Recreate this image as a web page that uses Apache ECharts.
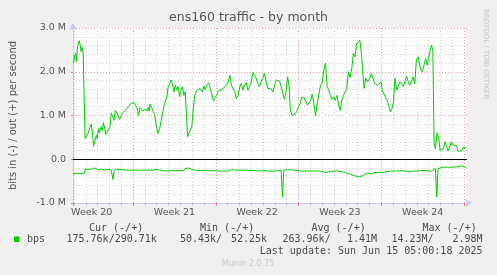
<!DOCTYPE html>
<html>
<head>
<meta charset="utf-8">
<script src="https://cdn.jsdelivr.net/npm/echarts@6/dist/echarts.min.js"></script>
<style>
html,body{margin:0;padding:0;background:#f0f0f0;}
#chart{width:497px;height:275px;}
</style>
</head>
<body>
<div id="chart"></div>
<script>
// Time in days since Sunday 11 May 2025 00:00; values in Mbit/s
const xMin = 1.92, xMax = 35.25;
const weekCenters = [3.5, 10.5, 17.5, 24.5, 31.5];
const weekLabels = ['Week 20', 'Week 21', 'Week 22', 'Week 23', 'Week 24'];
const yTickValues = [-1, 0, 1, 2, 3];
const yTickLabels = ['-1.0 M', '0.0', '1.0 M', '2.0 M', '3.0 M'];

const outDays = [1.97,2.05,2.14,2.22,2.30,2.44,2.53,2.61,2.69,2.78,2.86,2.94,3.08,3.19,3.36,3.47,3.58,3.66,3.78,3.89,3.97,4.08,4.16,4.28,4.39,4.50,4.61,4.69,4.80,4.94,5.05,5.16,5.28,5.39,5.50,5.64,5.75,5.86,6.00,6.11,6.22,6.36,6.50,6.64,6.78,6.91,7.05,7.19,7.33,7.47,7.58,7.72,7.86,8.00,8.14,8.28,8.36,8.44,8.58,8.69,8.83,8.97,9.11,9.25,9.39,9.53,9.66,9.75,9.86,9.97,10.11,10.22,
10.33,10.47,10.58,10.69,10.80,10.94,11.05,11.19,11.30,11.41,11.50,11.61,11.72,11.86,11.97,12.08,12.22,12.36,12.50,12.64,12.75,12.86,13.00,13.11,13.25,13.41,13.53,13.66,13.80,13.94,14.08,14.22,14.36,14.50,14.64,14.78,14.92,15.05,15.19,15.33,15.47,15.61,15.75,15.89,16.03,16.16,16.30,16.44,16.58,16.72,16.86,17.00,17.14,17.28,17.42,17.55,17.69,17.83,17.97,18.11,18.25,18.39,18.53,18.66,
18.83,18.97,19.11,19.25,19.39,19.53,19.66,19.80,19.94,20.08,20.19,20.30,20.44,20.58,20.72,20.86,21.00,21.14,21.25,21.36,21.47,21.61,21.75,21.89,22.03,22.16,22.30,22.44,22.58,22.72,22.86,23.00,23.14,23.28,23.42,23.55,23.69,23.83,23.97,24.11,24.25,24.39,24.53,24.66,24.80,24.94,25.08,25.22,25.36,25.50,25.64,25.78,25.92,26.05,26.19,26.33,26.47,26.55,26.69,26.83,26.97,
27.03,27.16,27.30,27.44,27.58,27.72,27.86,27.97,28.08,28.22,28.36,28.50,28.64,28.78,28.91,29.03,29.16,29.30,29.44,29.58,29.72,29.86,30.00,30.14,30.28,30.41,30.55,30.69,30.83,30.97,31.11,31.25,31.33,31.47,31.61,31.75,31.89,32.03,32.11,32.25,32.36,32.47,32.58,32.72,32.86,32.97,33.11,33.25,33.39,33.53,33.66,33.80,33.94,34.08,34.22,34.36,34.50,34.64,34.78,34.91,35.05,35.14,35.20];
const outValues = [2.20,2.36,2.42,2.23,2.57,2.71,2.61,2.46,2.56,2.43,2.46,0.47,0.47,0.59,0.74,0.80,0.55,0.30,0.32,0.55,0.47,0.70,0.60,0.74,0.66,0.84,0.85,0.57,0.62,0.59,0.74,1.06,0.97,0.89,1.12,1.14,1.00,0.91,0.89,1.06,1.04,1.12,1.14,1.21,1.27,1.26,1.30,1.24,1.18,1.00,1.18,1.14,1.10,1.15,1.10,1.18,1.10,1.26,1.18,1.10,1.03,0.76,0.59,0.70,0.89,1.10,1.27,1.24,1.43,1.66,1.73,1.81,
1.73,1.54,1.69,1.58,1.66,1.43,1.58,1.66,1.46,1.54,1.12,0.51,0.59,0.55,0.74,1.12,1.46,1.56,1.54,1.62,1.66,1.54,1.67,1.59,1.69,1.75,1.62,1.50,1.33,1.41,1.46,1.56,1.54,1.59,1.58,1.66,1.69,1.75,1.92,1.69,1.69,1.54,1.39,1.46,1.66,1.73,1.58,1.69,1.75,1.58,1.66,1.77,1.98,1.92,1.85,1.73,1.66,1.77,1.85,1.96,1.98,1.62,1.58,1.62,
1.54,1.69,1.81,1.85,1.79,1.66,1.62,1.37,1.54,1.88,1.69,1.16,1.00,1.00,1.04,1.10,1.21,1.27,1.41,1.39,1.41,1.39,1.24,1.29,1.35,1.49,1.26,1.00,1.27,1.49,1.69,1.75,2.04,2.20,1.66,1.58,1.46,1.37,1.43,1.35,1.46,1.24,1.12,1.35,1.46,1.44,1.62,2.00,1.87,2.07,2.42,2.34,2.65,2.63,2.72,2.38,1.85,1.62,1.85,1.77,1.81,
1.85,1.96,1.92,1.73,1.75,1.69,1.66,1.77,1.58,1.59,1.41,1.35,1.37,1.08,1.16,1.31,1.85,1.58,1.62,1.77,1.73,1.66,1.77,1.90,1.77,1.69,1.73,1.88,1.73,2.27,2.34,2.38,2.05,2.00,2.04,2.30,2.15,2.11,2.46,2.61,2.49,0.36,0.24,0.60,0.51,0.21,0.22,0.24,0.40,0.28,0.19,0.21,0.40,0.32,0.30,0.32,0.18,0.17,0.19,0.27,0.24,0.27,0.29];

const inDays = [1.92,2.86,2.94,3.22,3.50,3.69,3.86,4.05,4.33,4.61,4.89,5.16,5.30,5.41,5.58,5.86,6.14,6.55,6.97,7.53,8.08,8.64,9.05,9.33,9.75,10.30,10.86,11.28,11.47,11.69,11.97,12.25,12.80,13.36,13.91,14.47,15.03,15.30,15.86,16.69,17.25,17.80,18.08,
18.53,18.94,19.36,19.53,19.64,19.75,20.05,20.47,20.89,21.30,21.72,22.14,22.55,22.97,23.25,23.53,23.94,24.36,24.91,25.33,25.75,26.16,26.44,26.72,27.14,27.55,27.97,28.39,28.80,29.22,29.64,30.05,30.33,30.61,31.03,31.44,31.86,32.28,32.41,32.58,32.69,32.80,32.97,33.25,33.66,34.08,34.50,34.78,35.05,35.14,35.20];
const inValues = [-0.33,-0.33,-0.23,-0.23,-0.23,-0.20,-0.21,-0.24,-0.23,-0.24,-0.23,-0.26,-0.46,-0.25,-0.23,-0.23,-0.24,-0.25,-0.25,-0.25,-0.25,-0.25,-0.23,-0.25,-0.27,-0.26,-0.26,-0.25,-0.21,-0.20,-0.23,-0.25,-0.26,-0.26,-0.26,-0.27,-0.27,-0.24,-0.25,-0.25,-0.26,-0.27,-0.26,
-0.27,-0.27,-0.26,-0.25,-0.86,-0.25,-0.24,-0.24,-0.26,-0.27,-0.27,-0.27,-0.27,-0.27,-0.30,-0.29,-0.27,-0.27,-0.30,-0.34,-0.38,-0.40,-0.37,-0.33,-0.33,-0.30,-0.30,-0.29,-0.27,-0.27,-0.26,-0.27,-0.29,-0.27,-0.27,-0.26,-0.26,-0.27,-0.23,-0.21,-0.86,-0.21,-0.20,-0.18,-0.18,-0.18,-0.17,-0.15,-0.18,-0.20,-0.18];

const legendHeader = ['Cur (-/+)', 'Min (-/+)', 'Avg (-/+)', 'Max (-/+)'];
const legendValues = ['175.76k/290.71k', '50.43k/', '52.25k', '263.96k/', '1.41M', '14.23M/', '2.98M'];
const seriesName = 'bps';
const lastUpdate = 'Last update: Sun Jun 15 05:00:18 2025';

const zip = (a, b) => a.map((v, i) => [v, b[i]]);

const FONT = 'DejaVu Sans';
const MONO = 'DejaVu Sans Mono';
const TXT = '#555555';
const GREEN = '#00cc00';
const AXIS = '#c4c8f4';
const MINOR = '#cfcfcf';
const MAJOR = '#e6a0a0';

const chart = echarts.init(document.getElementById('chart'), null, {renderer: 'canvas'});

const baseX = {type: 'value', min: xMin, max: xMax, gridIndex: 0, position: 'bottom'};

const monoText = (x, y, text, align) => ({
  type: 'text', x: x, y: y, silent: true,
  style: {text: text, fill: '#4a4a4a', font: '10px "' + MONO + '"', textAlign: align || 'left', textVerticalAlign: 'middle'}
});

chart.setOption({
  animation: false,
  backgroundColor: '#f0f0f0',
  grid: {left: 67, right: 30, top: 28, bottom: 72, show: true, backgroundColor: '#ffffff', borderWidth: 0},
  xAxis: [
    Object.assign({}, baseX, {
      minInterval: 1, maxInterval: 1,
      axisLine: {show: true, onZero: false, lineStyle: {color: AXIS, width: 1}, symbol: ['none', 'arrow'], symbolSize: [6, 7], symbolOffset: [0, 5]},
      axisTick: {show: true, inside: false, length: 2, lineStyle: {color: '#bbbbbb'}},
      axisLabel: {show: false},
      splitLine: {show: true, showMinLine: false, showMaxLine: false, lineStyle: {color: MINOR, type: [1, 2], width: 1}}
    }),
    Object.assign({}, baseX, {
      minInterval: 7, maxInterval: 7,
      axisLine: {show: false, onZero: false},
      axisTick: {show: true, inside: false, length: 3, lineStyle: {color: '#e08080'}},
      axisLabel: {show: false},
      splitLine: {show: true, showMinLine: false, showMaxLine: false, lineStyle: {color: MAJOR, type: [1, 2], width: 1}}
    }),
    Object.assign({}, baseX, {
      axisLine: {show: false, onZero: false},
      axisTick: {show: false},
      splitLine: {show: false},
      axisLabel: {
        show: true, customValues: weekCenters, margin: 5,
        color: TXT, fontFamily: FONT, fontSize: 9.5,
        formatter: v => { const i = weekCenters.indexOf(v); return i >= 0 ? weekLabels[i] : ''; }
      }
    })
  ],
  yAxis: [
    {
      type: 'value', min: -1, max: 3, interval: 0.2, position: 'left',
      axisLine: {show: false}, axisTick: {show: false}, axisLabel: {show: false},
      splitLine: {show: true, lineStyle: {color: MINOR, type: [1, 2], width: 1}}
    },
    {
      type: 'value', min: -1, max: 3, interval: 1, position: 'left',
      name: 'bits in (-) / out (+) per second', nameLocation: 'middle', nameGap: 55, nameRotate: 90,
      nameTextStyle: {color: TXT, fontFamily: FONT, fontSize: 10},
      axisLine: {show: true, onZero: false, lineStyle: {color: AXIS, width: 1}, symbol: ['none', 'arrow'], symbolSize: [6, 7], symbolOffset: [0, 5]},
      axisTick: {show: true, inside: false, length: 2, lineStyle: {color: '#e08080'}},
      axisLabel: {
        color: TXT, fontFamily: FONT, fontSize: 9.5, margin: 7,
        formatter: v => { const i = yTickValues.findIndex(t => Math.abs(t - v) < 1e-9); return i >= 0 ? yTickLabels[i] : ''; }
      },
      splitLine: {show: true, lineStyle: {color: MAJOR, type: [1, 2], width: 1}}
    }
  ],
  series: [
    {
      name: seriesName + ' in', type: 'line', xAxisIndex: 0, yAxisIndex: 1,
      data: zip(inDays, inValues), showSymbol: false, symbol: 'none',
      lineStyle: {color: GREEN, width: 1}, itemStyle: {color: GREEN}, z: 5
    },
    {
      name: seriesName, type: 'line', xAxisIndex: 0, yAxisIndex: 1,
      data: zip(outDays, outValues), showSymbol: false, symbol: 'none',
      lineStyle: {color: GREEN, width: 1}, itemStyle: {color: GREEN}, z: 5,
      markLine: {
        silent: true, symbol: ['none', 'none'], label: {show: false},
        lineStyle: {color: '#000000', width: 1.2, type: 'solid'},
        data: [{yAxis: 0}]
      }
    }
  ],
  graphic: [
    {type: 'text', x: 248.5, y: 18, silent: true,
     style: {text: 'ens160 traffic - by month', fill: TXT, font: '12.5px "' + FONT + '"', textAlign: 'center', textVerticalAlign: 'middle'}},
    {type: 'text', x: 486, y: 54, rotation: -Math.PI / 2, silent: true,
     style: {text: 'RRDTOOL / TOBI OETIKER', fill: '#c8c8c8', font: '7px "' + FONT + '"', textAlign: 'center', textVerticalAlign: 'middle'}},
    monoText(89, 228, legendHeader[0]),
    monoText(200, 228, legendHeader[1]),
    monoText(311.5, 228, legendHeader[2]),
    monoText(422.5, 228, legendHeader[3]),
    {type: 'rect', shape: {x: 14, y: 236.5, width: 5.5, height: 5.5}, style: {fill: GREEN}, silent: true},
    monoText(27, 239.5, seriesName),
    monoText(66.5, 239.5, legendValues[0]),
    monoText(180, 239.5, legendValues[1]),
    monoText(267, 239.5, legendValues[2], 'right'),
    monoText(282.5, 239.5, legendValues[3]),
    monoText(377, 239.5, legendValues[4], 'right'),
    monoText(391.5, 239.5, legendValues[5]),
    monoText(482.5, 239.5, legendValues[6], 'right'),
    monoText(482.5, 251, lastUpdate, 'right'),
    {type: 'text', x: 248, y: 264, silent: true,
     style: {text: 'Munin 2.0.75', fill: '#cccccc', font: '8px "' + FONT + '"', textAlign: 'center', textVerticalAlign: 'middle'}}
  ]
});
</script>
</body>
</html>
